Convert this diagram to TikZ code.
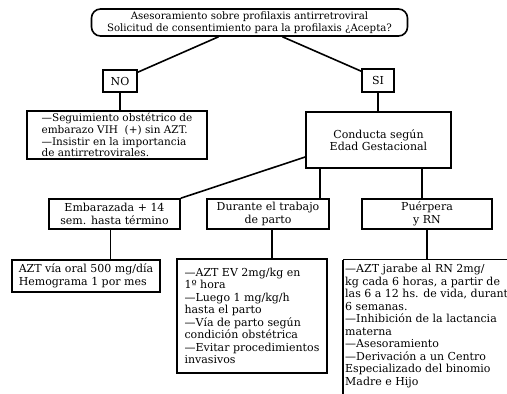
\documentclass[tikz,border=0pt]{standalone}
\usepackage{fontspec}
\setmainfont{DejaVu Serif}
\begin{document}
\begin{tikzpicture}[x=1pt,y=-1pt,
  every node/.style={font=\fontsize{11}{12.5}\selectfont, inner sep=0pt},
  box/.style={draw, line width=1.6pt, rectangle, align=center},
  notebox/.style={box, align=left},
  link/.style={line width=1.6pt},
]
\useasboundingbox (0,0) rectangle (507,394);
\clip (0,0) rectangle (507,394);
\fill[white] (0,0) rectangle (507,394);

% question at the top
\node[box, rounded corners=9pt, minimum width=316pt, minimum height=27pt,
      font=\fontsize{10.2}{12.5}\selectfont] (top) at (249.5,22.5)
  {Asesoramiento sobre profilaxis antirretroviral\\Solicitud de consentimiento para la profilaxis ¿Acepta?};

% answers
\node[box, minimum width=34pt, minimum height=22pt] (no) at (120,81) {NO};
\node[box, minimum width=32pt, minimum height=23pt] (si) at (378,80.5) {SI};

% branch NO
\node[notebox, minimum width=180pt, minimum height=48pt,
      font=\fontsize{10.5}{11.8}\selectfont] (notext) at (117,135)
  {—Seguimiento obstétrico de\\embarazo VIH\ \ (+) sin AZT.\\—Insistir en la importancia\\de antirretrovirales.};

% branch SI
\node[box, minimum width=145pt, minimum height=56pt] (conducta) at (378.5,140)
  {Conducta según\\Edad Gestacional};

\node[box, minimum width=131pt, minimum height=30pt] (emb) at (114.5,214)
  {Embarazada + 14\\sem. hasta término};
\node[box, minimum width=122pt, minimum height=30pt] (durante) at (268,214)
  {Durante el trabajo\\de parto};
\node[box, minimum width=130pt, minimum height=30pt] (puerpera) at (427,214)
  {Puérpera\\y RN};

\node[notebox, minimum width=148pt, minimum height=32pt] (azt) at (86,276)
  {AZT vía oral 500 mg/día\\Hemograma 1 por mes};
\node[notebox, minimum width=150pt, minimum height=114pt] (durtext) at (252,316)
  {—AZT EV 2mg/kg en\\1º hora\\—Luego 1 mg/kg/h\\hasta el parto\\—Vía de parto según\\condición obstétrica\\—Evitar procedimientos\\invasivos};

% the last note runs past the right and lower edges
\coordinate (puerframe) at (343,259.5);
\node[anchor=north west, align=left] (puertext) at (345,264)
  {—AZT jarabe al RN 2mg/\\kg cada 6 horas, a partir de\\las 6 a 12 hs. de vida, durante\\6 semanas.\\—Inhibición de la lactancia\\materna\\—Asesoramiento\\—Derivación a un Centro\\Especializado del binomio\\Madre e Hijo};
\draw[link] (puerframe) -- ++(200,0);
\draw[link] (puerframe) -- ++(0,160);

% connectors
\draw[link] ([xshift=-31pt]top.south) -- ([yshift=-3pt]no.north east);
\draw[link] ([xshift=33pt]top.south) -- ([yshift=-3pt]si.north west);
\draw[link] (no.south) -- (no.south |- notext.north);
\draw[link] (si.south) -- (si.south |- conducta.north);
\draw[link] ([yshift=-17pt]conducta.west) -- (emb.north east);
\draw[link] ([xshift=15pt]conducta.south west) -- ([xshift=15pt]conducta.south west |- durante.north);
\draw[link] ([xshift=117pt]conducta.south west) -- ([xshift=117pt]conducta.south west |- puerpera.north);
\draw[link] ([xshift=-4pt]emb.south) -- ([xshift=-4pt]emb.south |- azt.north);
\draw[link] ([xshift=4pt]durante.south) -- ([xshift=4pt]durante.south |- durtext.north);
\draw[link] (puerpera.south) -- (puerpera.south |- puerframe);
\end{tikzpicture}
\end{document}
